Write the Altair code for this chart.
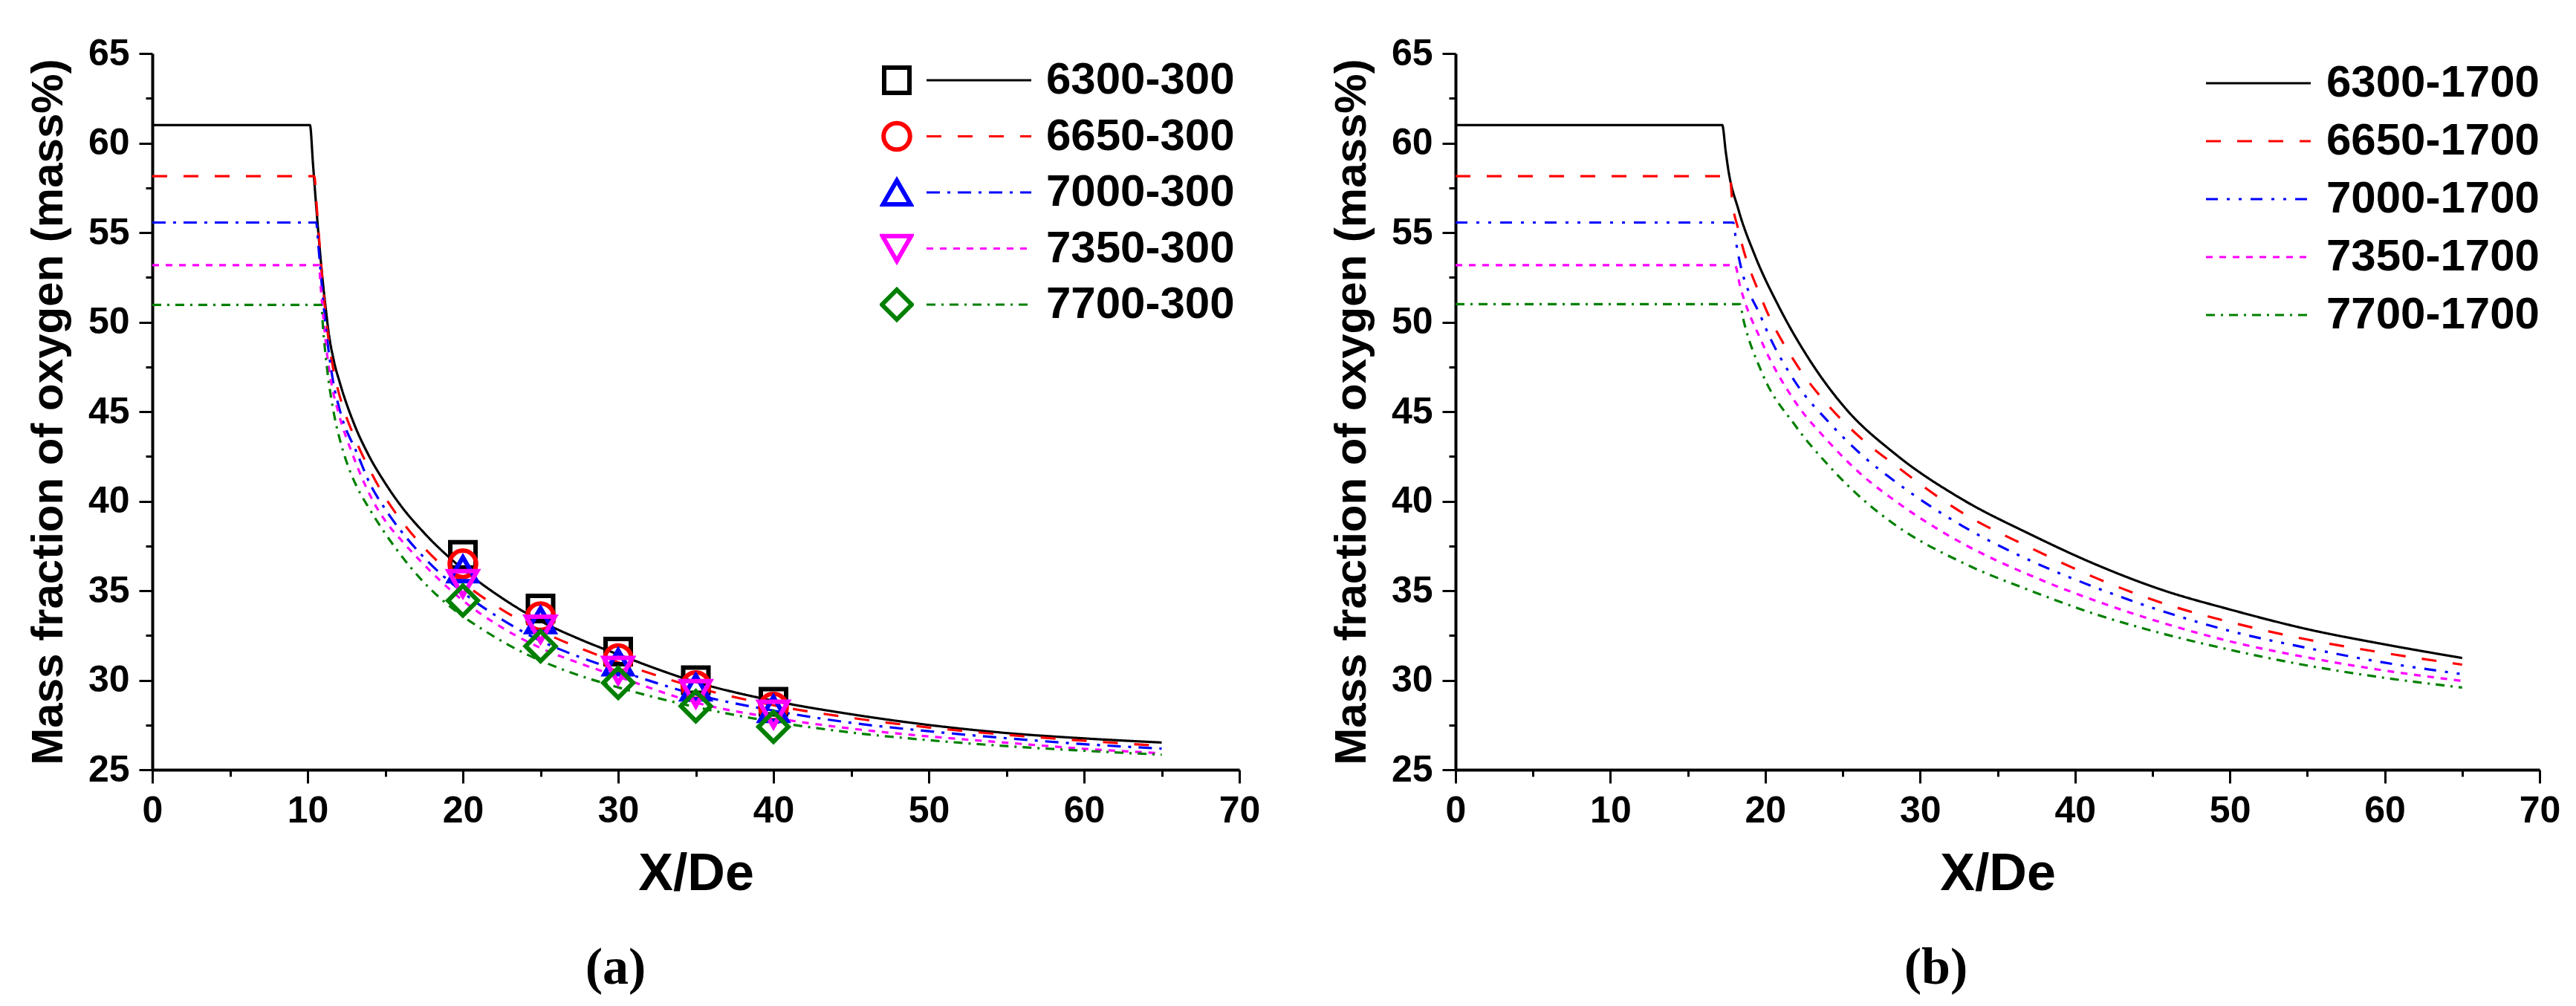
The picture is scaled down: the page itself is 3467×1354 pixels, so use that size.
import altair as alt
import pandas as pd

FONT = "Liberation Sans"
SERIF = "Liberation Serif"

# ---------------- panel (a) ----------------
a_cases = ["6300-300", "6650-300", "7000-300", "7350-300", "7700-300"]

a_black_x = [0, 10.15, 10.35, 10.55, 10.75, 10.95, 11.15, 11.35, 11.7, 12.08, 13.0, 13.91, 15.0, 16.0, 17.5, 20.0, 22.5, 25.0, 27.5, 30.0, 35.0, 40.0, 45.0, 50.0, 55.0, 60.0, 65.0]
a_black_y = [61.0, 61.0, 58.8, 56.5, 54.4, 52.5, 50.9, 49.45, 47.8, 46.6, 44.3, 42.6, 41.0, 39.75, 38.23, 36.2, 34.6, 33.3, 32.3, 31.44, 29.9, 28.85, 28.1, 27.5, 27.05, 26.75, 26.52]

a_red_x = [0, 10.43, 10.6, 10.8, 11.0, 11.2, 11.45, 11.81, 12.3, 13.0, 14.0, 15.0, 16.0, 17.5, 20.0, 22.5, 25.0, 27.5, 30.0, 35.0, 40.0, 45.0, 50.0, 55.0, 60.0, 65.0]
a_red_y = [58.15, 58.15, 56.3, 54.0, 51.9, 50.1, 48.4, 46.74, 45.2, 43.6, 41.75, 40.2, 38.95, 37.4, 35.45, 33.95, 32.75, 31.8, 31.0, 29.6, 28.6, 27.9, 27.36, 26.95, 26.62, 26.33]

a_blue_x = [0, 10.55, 10.7, 10.9, 11.1, 11.35, 11.63, 12.1, 13.22, 14.0, 15.0, 16.0, 17.5, 20.0, 22.5, 25.0, 27.5, 30.0, 35.0, 40.0, 45.0, 50.0, 55.0, 60.0, 65.0]
a_blue_y = [55.56, 55.56, 54.2, 52.2, 50.3, 48.4, 46.74, 45.0, 42.6, 41.0, 39.55, 38.35, 36.85, 34.9, 33.4, 32.2, 31.3, 30.55, 29.2, 28.3, 27.62, 27.15, 26.76, 26.43, 26.18]

a_mag_x = [0, 10.72, 10.85, 11.0, 11.2, 11.5, 12.0, 12.9, 13.5, 14.28, 15.0, 16.0, 17.5, 20.0, 22.5, 25.0, 27.5, 30.0, 35.0, 40.0, 45.0, 50.0, 55.0, 60.0, 65.0]
a_mag_y = [53.18, 53.18, 51.9, 50.4, 48.6, 46.74, 44.9, 42.6, 41.3, 39.9, 38.9, 37.85, 36.45, 34.45, 32.95, 31.8, 30.95, 30.2, 28.75, 27.9, 27.3, 26.86, 26.51, 26.17, 25.92]

a_green_x = [0, 10.88, 11.0, 11.15, 11.35, 11.72, 12.15, 12.63, 13.2, 13.91, 15.74, 17.58, 19.41, 21.24, 23.98, 26.73, 30.0, 35.0, 40.0, 45.0, 50.0, 55.0, 60.0, 65.0]
a_green_y = [50.96, 50.96, 49.6, 48.2, 46.74, 44.77, 43.2, 41.9, 40.75, 39.67, 37.29, 35.38, 33.95, 32.85, 31.5, 30.5, 29.6, 28.5, 27.68, 27.08, 26.65, 26.32, 26.06, 25.84]

# measured points (a)
pt_x = [20, 25, 30, 35, 40]
pt_square = [37.0, 34.0, 31.6, 30.0, 28.8]
pt_circle = [36.5, 33.55, 31.2, 29.7, 28.5]
pt_tri_up = [36.2, 33.35, 31.0, 29.6, 28.4]
pt_tri_down = [35.4, 32.85, 30.55, 29.25, 28.1]
pt_diamond = [34.45, 31.9, 29.85, 28.55, 27.4]

# ---------------- panel (b) ----------------
b_cases = ["6300-1700", "6650-1700", "7000-1700", "7350-1700", "7700-1700"]

b_black_x = [0, 17.22, 17.45, 17.61, 18.26, 19.34, 20.85, 23.0, 25.17, 28.41, 32.72, 37.04, 41.35, 45.67, 50, 55, 60, 65]
b_black_y = [61.0, 61.0, 59.5, 58.53, 56.3, 53.7, 50.91, 47.7, 45.19, 42.62, 40.1, 38.18, 36.46, 35.03, 33.95, 32.85, 32.0, 31.24]

b_red_x = [0, 17.72, 17.85, 18.26, 19.77, 21.93, 24.08, 26.24, 28.41, 32.72, 37.04, 41.35, 45.67, 50, 55, 60, 65]
b_red_y = [58.15, 58.15, 56.9, 55.17, 51.28, 47.75, 45.33, 43.47, 41.99, 39.35, 37.43, 35.71, 34.3, 33.25, 32.27, 31.52, 30.87]

b_blue_x = [0, 17.93, 18.15, 19.77, 21.93, 24.08, 26.24, 28.41, 32.72, 37.04, 41.35, 45.67, 50, 55, 60, 65]
b_blue_y = [55.56, 55.56, 54.27, 50.19, 46.66, 44.43, 42.57, 41.08, 38.62, 36.71, 35.17, 33.85, 32.75, 31.8, 30.98, 30.34]

b_mag_x = [0, 18.04, 18.36, 19.77, 21.93, 24.08, 26.24, 28.41, 32.72, 37.04, 41.35, 45.67, 50, 55, 60, 65]
b_mag_y = [53.18, 53.18, 52.06, 48.9, 45.55, 43.32, 41.46, 40.0, 37.65, 35.88, 34.43, 33.2, 32.17, 31.27, 30.54, 29.96]

b_green_x = [0, 18.36, 18.58, 19.77, 21.93, 24.08, 26.24, 28.41, 32.72, 37.04, 41.35, 45.67, 50, 55, 60, 65]
b_green_y = [51.0, 51.0, 50.16, 47.2, 44.23, 42.0, 40.14, 38.66, 36.57, 35.03, 33.68, 32.6, 31.7, 30.82, 30.13, 29.59]

# axis ticks
x_ticks = [0, 5, 10, 15, 20, 25, 30, 35, 40, 45, 50, 55, 60, 65, 70]
y_ticks = [25, 27.5, 30, 32.5, 35, 37.5, 40, 42.5, 45, 47.5, 50, 52.5, 55, 57.5, 60, 62.5, 65]

# styles
colors = ["#000000", "#FF0000", "#0000FF", "#FF00FF", "#008000"]
dash_a = [[1, 0], [20, 22], [18, 10, 4, 10], [9, 9], [12, 8, 3, 8]]
dash_b = [[1, 0], [20, 22], [16, 12, 4, 12, 4, 12], [9, 9], [12, 8, 3, 8]]
shapes = ["square", "circle", "triangle-up", "triangle-down", "diamond"]
sizes = [1156, 1600, 2209, 2209, 2601]


def long_frame(cases, xs_list, ys_list, field):
    rows = []
    for c, xs, ys in zip(cases, xs_list, ys_list):
        for i, (xv, yv) in enumerate(zip(xs, ys)):
            rows.append({field: c, "X": xv, "Y": yv, "order": i})
    return pd.DataFrame(rows)


df_a = long_frame(a_cases, [a_black_x, a_red_x, a_blue_x, a_mag_x, a_green_x],
                  [a_black_y, a_red_y, a_blue_y, a_mag_y, a_green_y], "case_l")
df_p = long_frame(a_cases, [pt_x] * 5,
                  [pt_square, pt_circle, pt_tri_up, pt_tri_down, pt_diamond], "case_p")
df_b = long_frame(b_cases, [b_black_x, b_red_x, b_blue_x, b_mag_x, b_green_x],
                  [b_black_y, b_red_y, b_blue_y, b_mag_y, b_green_y], "case_b")


def x_axis():
    return alt.Axis(
        title="X/De", values=x_ticks, grid=False,
        labelExpr="datum.value % 10 === 0 ? datum.label : ''",
        tickSize={"condition": {"test": "datum.value % 10 === 0", "value": 18}, "value": 9},
        tickWidth=3, domainWidth=4, domainColor="black", tickColor="black",
        labelFont=FONT, labelFontSize=50, labelFontWeight="bold", labelColor="black",
        labelPadding=12, labelFlush=False, labelOverlap=False, labelBound=False,
        titleFont=FONT, titleFontSize=70, titleFontWeight="bold", titleColor="black",
        titlePadding=26,
    )


def y_axis():
    return alt.Axis(
        title="Mass fraction of oxygen (mass%)", values=y_ticks, grid=False,
        labelExpr="datum.value % 5 === 0 ? datum.label : ''",
        tickSize={"condition": {"test": "datum.value % 5 === 0", "value": 18}, "value": 9},
        tickWidth=3, domainWidth=4, domainColor="black", tickColor="black",
        labelFont=FONT, labelFontSize=50, labelFontWeight="bold", labelColor="black",
        labelPadding=13, labelFlush=False, labelOverlap=False, labelBound=False,
        titleFont=FONT, titleFontSize=60, titleFontWeight="bold", titleColor="black",
        titlePadding=22,
    )


xs = alt.Scale(domain=[0, 70], nice=False, zero=False)
ys = alt.Scale(domain=[25, 65], nice=False, zero=False)


def line_legend(lx, ly, row_pad, lab_off):
    return alt.Legend(
        title=None, orient="none", legendX=lx, legendY=ly, padding=0,
        symbolType="stroke", symbolSize=19881, symbolStrokeWidth=3.2,
        clipHeight=60, rowPadding=row_pad, labelOffset=lab_off,
        labelFont=FONT, labelFontSize=60, labelFontWeight="bold", labelColor="black",
        labelLimit=600,
    )


leg_la = line_legend(1040, 6, 15.5, 18)
leg_pa = alt.Legend(
    title=None, orient="none", legendX=979, legendY=6, padding=0,
    clipHeight=60, rowPadding=15.5, symbolStrokeWidth=6,
    labelExpr="''", labelFontSize=1, labelOffset=0,
)
leg_lb = line_legend(1008, 10, 18, 19)

lines_a = alt.Chart(df_a).mark_line(strokeWidth=3.2, interpolate="monotone").encode(
    x=alt.X("X:Q", scale=xs, axis=x_axis()),
    y=alt.Y("Y:Q", scale=ys, axis=y_axis()),
    stroke=alt.Stroke("case_l:N", scale=alt.Scale(range=colors), legend=leg_la),
    strokeDash=alt.StrokeDash("case_l:N", scale=alt.Scale(range=dash_a), legend=leg_la),
    order="order:Q",
)

pts_a = alt.Chart(df_p).mark_point(filled=False, strokeWidth=6, opacity=1).encode(
    x=alt.X("X:Q", scale=xs),
    y=alt.Y("Y:Q", scale=ys),
    color=alt.Color("case_p:N", scale=alt.Scale(range=colors), legend=leg_pa),
    shape=alt.Shape("case_p:N", scale=alt.Scale(range=shapes), legend=leg_pa),
    size=alt.Size("case_p:N", scale=alt.Scale(range=sizes), legend=leg_pa),
)

panel_a = alt.layer(lines_a, pts_a).properties(
    width=1463, height=964,
    title=alt.TitleParams(text="(a)", orient="bottom", anchor="middle", frame="group",
                          font=SERIF, fontSize=70, fontWeight="bold", color="black",
                          dx=-108, offset=58),
)

panel_b = alt.Chart(df_b).mark_line(strokeWidth=3.2, interpolate="monotone").encode(
    x=alt.X("X:Q", scale=xs, axis=x_axis()),
    y=alt.Y("Y:Q", scale=ys, axis=y_axis()),
    stroke=alt.Stroke("case_b:N", scale=alt.Scale(range=colors), legend=leg_lb),
    strokeDash=alt.StrokeDash("case_b:N", scale=alt.Scale(range=dash_b), legend=leg_lb),
    order="order:Q",
).properties(
    width=1459, height=964,
    title=alt.TitleParams(text="(b)", orient="bottom", anchor="middle", frame="group",
                          font=SERIF, fontSize=70, fontWeight="bold", color="black",
                          dx=-83, offset=58),
)

chart = alt.hconcat(panel_a, panel_b, spacing=291, bounds="flush").resolve_scale(
    x="independent", y="independent", stroke="independent", strokeDash="independent"
).resolve_legend(
    stroke="independent", strokeDash="independent"
).properties(
    padding={"left": 27, "top": 39, "right": 5, "bottom": 5},
    background="white",
).configure_view(strokeWidth=0)

chart.save("out.html", embed_options={"renderer": "svg", "actions": False})
